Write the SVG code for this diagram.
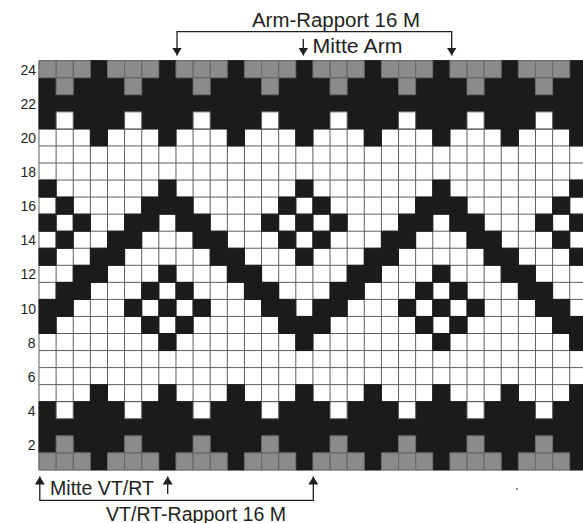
<svg xmlns="http://www.w3.org/2000/svg" width="583" height="523" viewBox="0 0 583 523">
<style>
.num{font-family:"Liberation Sans",Arial,sans-serif;font-size:14px;fill:#231f20;text-anchor:end}
.lbl{font-family:"Liberation Sans",Arial,sans-serif;font-size:19.5px;fill:#231f20}
.br{fill:none;stroke:#231f20;stroke-width:1.3}
.blk{fill:#1c1a1b;stroke:#1c1a1b;stroke-width:1}
.gry{fill:#8b8b8b;stroke:#6a6a6a;stroke-width:1}
.wht{fill:#ffffff}
.whc{fill:#ffffff;stroke:#5e5e5e;stroke-width:1}
.grid{fill:none;stroke:#5e5e5e;stroke-width:1}
</style>
<defs>
<marker id="ah" viewBox="0 0 8 10" refX="8" refY="5" markerWidth="8" markerHeight="10" markerUnits="userSpaceOnUse" orient="auto-start-reverse">
<path d="M0 0L8 5L0 10z" fill="#231f20"/>
</marker>
</defs>
<rect width="583" height="523" fill="#ffffff"/>
<g id="chart" transform="translate(39 60.7) scale(17.12 17.05)">
<rect class="wht" x="0" y="0" width="32" height="24"/>
<path class="grid" vector-effect="non-scaling-stroke" d="M0 0v24M1 0v24M2 0v24M3 0v24M4 0v24M5 0v24M6 0v24M7 0v24M8 0v24M9 0v24M10 0v24M11 0v24M12 0v24M13 0v24M14 0v24M15 0v24M16 0v24M17 0v24M18 0v24M19 0v24M20 0v24M21 0v24M22 0v24M23 0v24M24 0v24M25 0v24M26 0v24M27 0v24M28 0v24M29 0v24M30 0v24M31 0v24M32 0v24
M0 0h32M0 1h32M0 2h32M0 3h32M0 4h32M0 5h32M0 6h32M0 7h32M0 8h32M0 9h32M0 10h32M0 11h32M0 12h32M0 13h32M0 14h32M0 15h32M0 16h32M0 17h32M0 18h32M0 19h32M0 20h32M0 21h32M0 22h32M0 23h32M0 24h32"/>
<path class="blk" vector-effect="non-scaling-stroke" d="M3 0h1v1h-1z m4 0h1v1h-1z m4 0h1v1h-1z m4 0h1v1h-1z m4 0h1v1h-1z m4 0h1v1h-1z m4 0h1v1h-1z m4 0h1v1h-1z
M0 1h32v3h-32z
M3 4h1v1h-1z m4 0h1v1h-1z m4 0h1v1h-1z m4 0h1v1h-1z m4 0h1v1h-1z m4 0h1v1h-1z m4 0h1v1h-1z m4 0h1v1h-1z
M0 7h1v1h-1z M7 7h1v1h-1z M15 7h1v1h-1z M23 7h1v1h-1z M31 7h1v1h-1z
M1 8h1v1h-1z M6 8h3v1h-3z M14 8h1v1h-1z M16 8h1v1h-1z M22 8h3v1h-3z M30 8h1v1h-1z
M0 9h1v1h-1z M2 9h1v1h-1z M5 9h2v1h-2z M8 9h2v1h-2z M13 9h1v1h-1z M15 9h1v1h-1z M17 9h1v1h-1z M21 9h2v1h-2z M24 9h2v1h-2z M29 9h1v1h-1z M31 9h1v1h-1z
M1 10h1v1h-1z M4 10h2v1h-2z M9 10h2v1h-2z M14 10h1v1h-1z M16 10h1v1h-1z M20 10h2v1h-2z M25 10h2v1h-2z M30 10h1v1h-1z
M0 11h1v1h-1z M3 11h2v1h-2z M10 11h2v1h-2z M15 11h1v1h-1z M19 11h2v1h-2z M26 11h2v1h-2z M31 11h1v1h-1z
M2 12h2v1h-2z M7 12h1v1h-1z M11 12h2v1h-2z M18 12h2v1h-2z M23 12h1v1h-1z M27 12h2v1h-2z
M1 13h2v1h-2z M6 13h1v1h-1z M8 13h1v1h-1z M12 13h2v1h-2z M17 13h2v1h-2z M22 13h1v1h-1z M24 13h1v1h-1z M28 13h2v1h-2z
M0 14h2v1h-2z M5 14h1v1h-1z M7 14h1v1h-1z M9 14h1v1h-1z M13 14h2v1h-2z M16 14h2v1h-2z M21 14h1v1h-1z M23 14h1v1h-1z M25 14h1v1h-1z M29 14h2v1h-2z
M0 15h1v1h-1z M6 15h1v1h-1z M8 15h1v1h-1z M14 15h3v1h-3z M22 15h1v1h-1z M24 15h1v1h-1z M30 15h2v1h-2z
M7 16h1v1h-1z M15 16h1v1h-1z M23 16h1v1h-1z M31 16h1v1h-1z
M3 19h1v1h-1z m4 0h1v1h-1z m4 0h1v1h-1z m4 0h1v1h-1z m4 0h1v1h-1z m4 0h1v1h-1z m4 0h1v1h-1z m4 0h1v1h-1z
M0 20h32v3h-32z
M3 23h1v1h-1z m4 0h1v1h-1z m4 0h1v1h-1z m4 0h1v1h-1z m4 0h1v1h-1z m4 0h1v1h-1z m4 0h1v1h-1z m4 0h1v1h-1z"/>
<path class="gry" vector-effect="non-scaling-stroke" d="M0 0h1v1h-1z m1 0h1v1h-1z m1 0h1v1h-1z m2 0h1v1h-1z m1 0h1v1h-1z m1 0h1v1h-1z m2 0h1v1h-1z m1 0h1v1h-1z m1 0h1v1h-1z m2 0h1v1h-1z m1 0h1v1h-1z m1 0h1v1h-1z m2 0h1v1h-1z m1 0h1v1h-1z m1 0h1v1h-1z m2 0h1v1h-1z m1 0h1v1h-1z m1 0h1v1h-1z m2 0h1v1h-1z m1 0h1v1h-1z m1 0h1v1h-1z m2 0h1v1h-1z m1 0h1v1h-1z m1 0h1v1h-1z
M1 1h1v1h-1z m4 0h1v1h-1z m4 0h1v1h-1z m4 0h1v1h-1z m4 0h1v1h-1z m4 0h1v1h-1z m4 0h1v1h-1z m4 0h1v1h-1z
M1 22h1v1h-1z m4 0h1v1h-1z m4 0h1v1h-1z m4 0h1v1h-1z m4 0h1v1h-1z m4 0h1v1h-1z m4 0h1v1h-1z m4 0h1v1h-1z
M0 23h1v1h-1z m1 0h1v1h-1z m1 0h1v1h-1z m2 0h1v1h-1z m1 0h1v1h-1z m1 0h1v1h-1z m2 0h1v1h-1z m1 0h1v1h-1z m1 0h1v1h-1z m2 0h1v1h-1z m1 0h1v1h-1z m1 0h1v1h-1z m2 0h1v1h-1z m1 0h1v1h-1z m1 0h1v1h-1z m2 0h1v1h-1z m1 0h1v1h-1z m1 0h1v1h-1z m2 0h1v1h-1z m1 0h1v1h-1z m1 0h1v1h-1z m2 0h1v1h-1z m1 0h1v1h-1z m1 0h1v1h-1z"/>
<path class="whc" vector-effect="non-scaling-stroke" d="M1 3h1v1h-1z m4 0h1v1h-1z m4 0h1v1h-1z m4 0h1v1h-1z m4 0h1v1h-1z m4 0h1v1h-1z m4 0h1v1h-1z m4 0h1v1h-1z
M1 20h1v1h-1z m4 0h1v1h-1z m4 0h1v1h-1z m4 0h1v1h-1z m4 0h1v1h-1z m4 0h1v1h-1z m4 0h1v1h-1z m4 0h1v1h-1z"/>
</g>
<g id="row-numbers">
<text class="num" x="36" y="75">24</text>
<text class="num" x="36" y="109">22</text>
<text class="num" x="36" y="143">20</text>
<text class="num" x="36" y="177">18</text>
<text class="num" x="36" y="211">16</text>
<text class="num" x="36" y="245">14</text>
<text class="num" x="36" y="279">12</text>
<text class="num" x="36" y="313.5">10</text>
<text class="num" x="35.5" y="347.5">8</text>
<text class="num" x="35.5" y="381.5">6</text>
<text class="num" x="35.5" y="415.5">4</text>
<text class="num" x="35.5" y="449.5">2</text>
</g>
<g id="connectors">
<path class="br" d="M177 55.5V31.7H451.7V55.5" marker-start="url(#ah)" marker-end="url(#ah)"/>
<path class="br" d="M303.3 39V55.5" marker-end="url(#ah)"/>
<path class="br" d="M39.8 476.5V500.3H313.3V476.5" marker-start="url(#ah)" marker-end="url(#ah)"/>
<path class="br" d="M167.7 494V476.5" marker-end="url(#ah)"/>
</g>
<g id="labels">
<text class="lbl" x="252" y="26.7" textLength="168" lengthAdjust="spacingAndGlyphs">Arm-Rapport 16 M</text>
<text class="lbl" x="312.5" y="53.3" textLength="90" lengthAdjust="spacingAndGlyphs">Mitte Arm</text>
<text class="lbl" x="50" y="495" textLength="104" lengthAdjust="spacingAndGlyphs">Mitte VT/RT</text>
<text class="lbl" x="106" y="520.5" textLength="180" lengthAdjust="spacingAndGlyphs">VT/RT-Rapport 16 M</text>
</g>
<circle cx="517" cy="489" r="0.9" fill="#555"/>
</svg>
